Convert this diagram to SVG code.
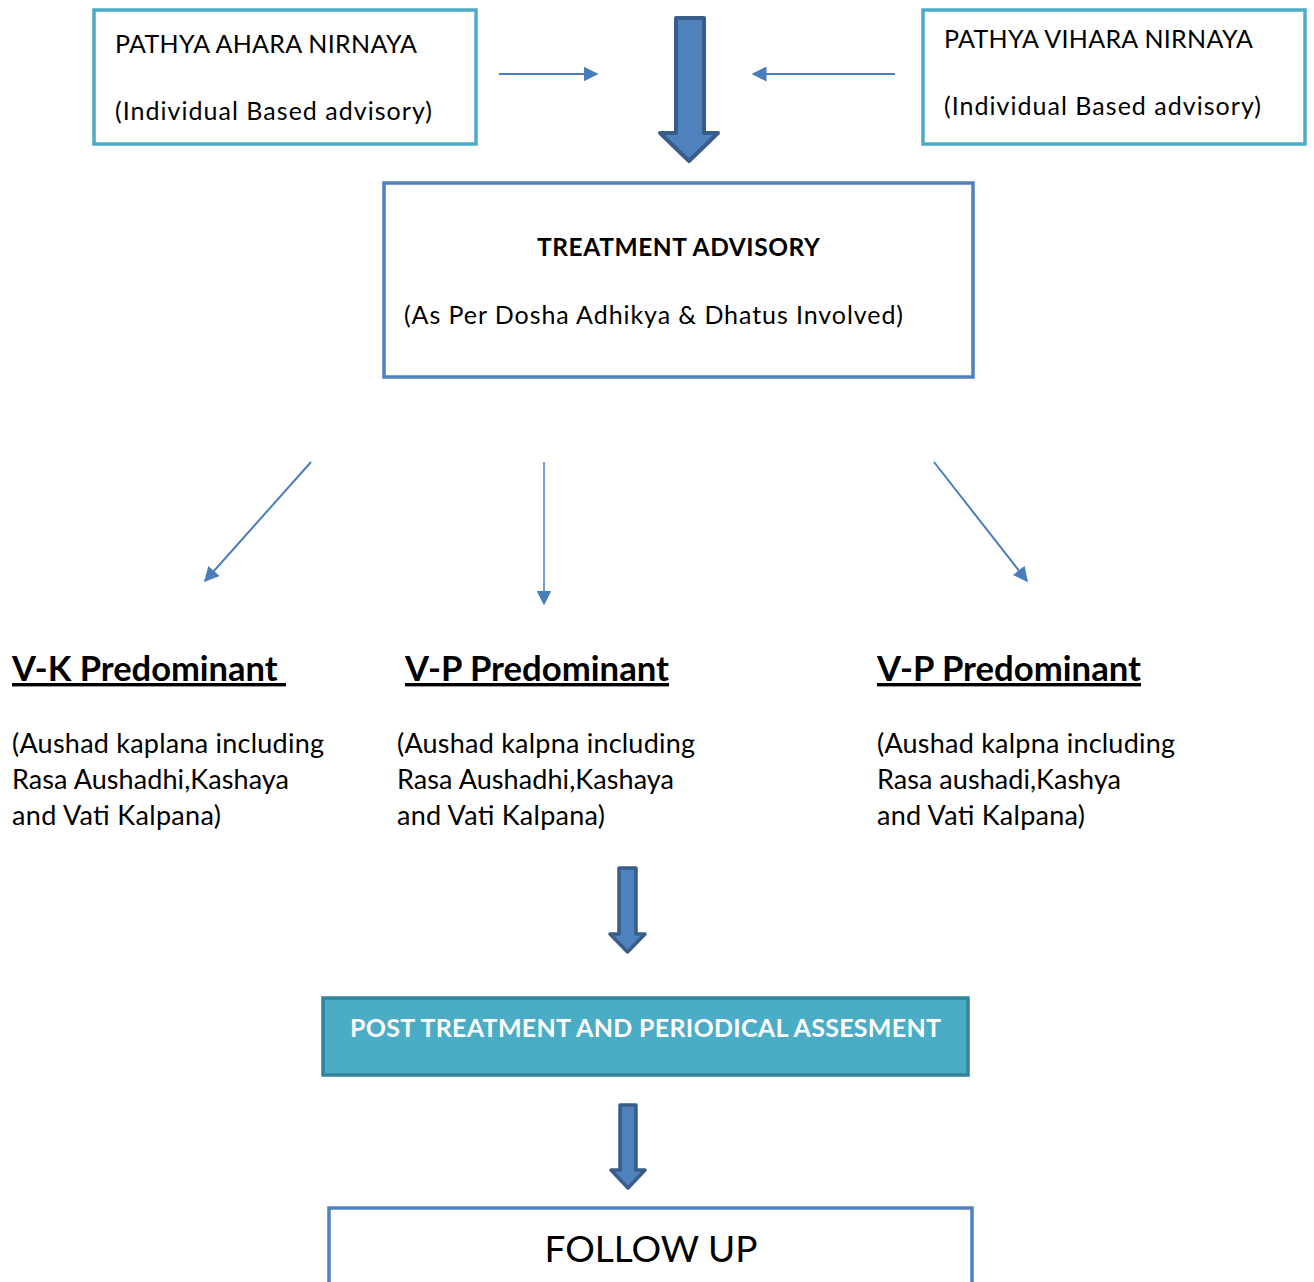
<svg xmlns="http://www.w3.org/2000/svg" width="1314" height="1282" viewBox="0 0 1314 1282">
<defs>
<style>
text{font-family:Lato,"Liberation Sans",sans-serif;fill:#000}
.b{font-size:25px}
.h{font-size:34px;font-weight:bold;text-decoration:underline}
.p{font-size:27px}
.box1{fill:#fff;stroke:#4bacc6;stroke-width:3.5}
.box2{fill:#fff;stroke:#4f81bd;stroke-width:3.5}
.conn{stroke:#4a7ebb;stroke-width:2;fill:none;marker-end:url(#ah2)}
.bigarrow{fill:#4f81bd;stroke:#385d8a;stroke-width:4;stroke-linejoin:round}
</style>
<marker id="ah2" viewBox="0 0 10 10" refX="9" refY="5" markerWidth="15" markerHeight="15" markerUnits="userSpaceOnUse" orient="auto">
<path d="M0,0 L10,5 L0,10 z" fill="#4a7ebb"/>
</marker>
</defs>
<rect width="1314" height="1282" fill="#fff"/>
<g id="pathya-ahara">
<rect class="box1" x="94" y="10" width="382" height="134"/>
<text class="b" x="115" y="53" textLength="302">PATHYA AHARA NIRNAYA</text>
<text class="b" x="115" y="120" textLength="317">(Individual Based advisory)</text>
</g>
<g id="pathya-vihara">
<rect class="box1" x="923" y="10" width="382" height="134"/>
<text class="b" x="944" y="48" textLength="309">PATHYA VIHARA NIRNAYA</text>
<text class="b" x="944" y="115" textLength="317">(Individual Based advisory)</text>
</g>
<g id="treatment-advisory">
<rect class="box2" x="384" y="183" width="589" height="194"/>
<text x="537" y="256" textLength="283" style="font-size:24.5px;font-weight:bold">TREATMENT ADVISORY</text>
<text class="b" x="404" y="324" textLength="499">(As Per Dosha Adhikya &amp; Dhatus Involved)</text>
</g>
<g id="vk">
<text class="h" x="12" y="681" xml:space="preserve" textLength="274" lengthAdjust="spacingAndGlyphs">V-K Predominant </text>
<text class="p" x="12" y="753" textLength="312">(Aushad kaplana including</text>
<text class="p" x="12" y="789" textLength="277">Rasa Aushadhi,Kashaya</text>
<text class="p" x="12" y="825" textLength="209">and Vati Kalpana)</text>
</g>
<g id="vp1">
<text class="h" x="405" y="681" textLength="264" lengthAdjust="spacingAndGlyphs">V-P Predominant</text>
<text class="p" x="397" y="753" textLength="298">(Aushad kalpna including</text>
<text class="p" x="397" y="789" textLength="277">Rasa Aushadhi,Kashaya</text>
<text class="p" x="397" y="825" textLength="208">and Vati Kalpana)</text>
</g>
<g id="vp2">
<text class="h" x="877" y="681" textLength="264" lengthAdjust="spacingAndGlyphs">V-P Predominant</text>
<text class="p" x="877" y="753" textLength="298">(Aushad kalpna including</text>
<text class="p" x="877" y="789" textLength="244">Rasa aushadi,Kashya</text>
<text class="p" x="877" y="825" textLength="208">and Vati Kalpana)</text>
</g>
<g id="post-treatment">
<rect x="323" y="998" width="645" height="77" fill="#4bacc6" stroke="#31849b" stroke-width="3.5"/>
<text x="350" y="1037" textLength="591" style="font-size:25px;font-weight:bold;fill:#fff">POST TREATMENT AND PERIODICAL ASSESMENT</text>
</g>
<g id="follow-up">
<rect class="box2" x="329" y="1208" width="643" height="90"/>
<text x="651" y="1262" text-anchor="middle" style="font-size:37px">FOLLOW UP</text>
</g>
<g id="connectors">
<line class="conn" x1="499" y1="74" x2="597" y2="74"/>
<line class="conn" x1="895" y1="74" x2="753" y2="74"/>
<path class="bigarrow" d="M676,18 H704 V133 H718 L689,161 L660,133 H676 Z"/>
<line class="conn" x1="311" y1="462" x2="205" y2="581"/>
<line class="conn" x1="544" y1="462" x2="544" y2="604" style="stroke-width:1.5"/>
<line class="conn" x1="934" y1="462" x2="1027" y2="581"/>
<path class="bigarrow" d="M619,868 H636 V934 H645 L627.5,952 L610,934 H619 Z" style="stroke-width:3.5"/>
<path class="bigarrow" d="M620,1105 H636 V1170 H645 L628,1188 L611,1170 H620 Z" style="stroke-width:3.5"/>
</g>
</svg>
